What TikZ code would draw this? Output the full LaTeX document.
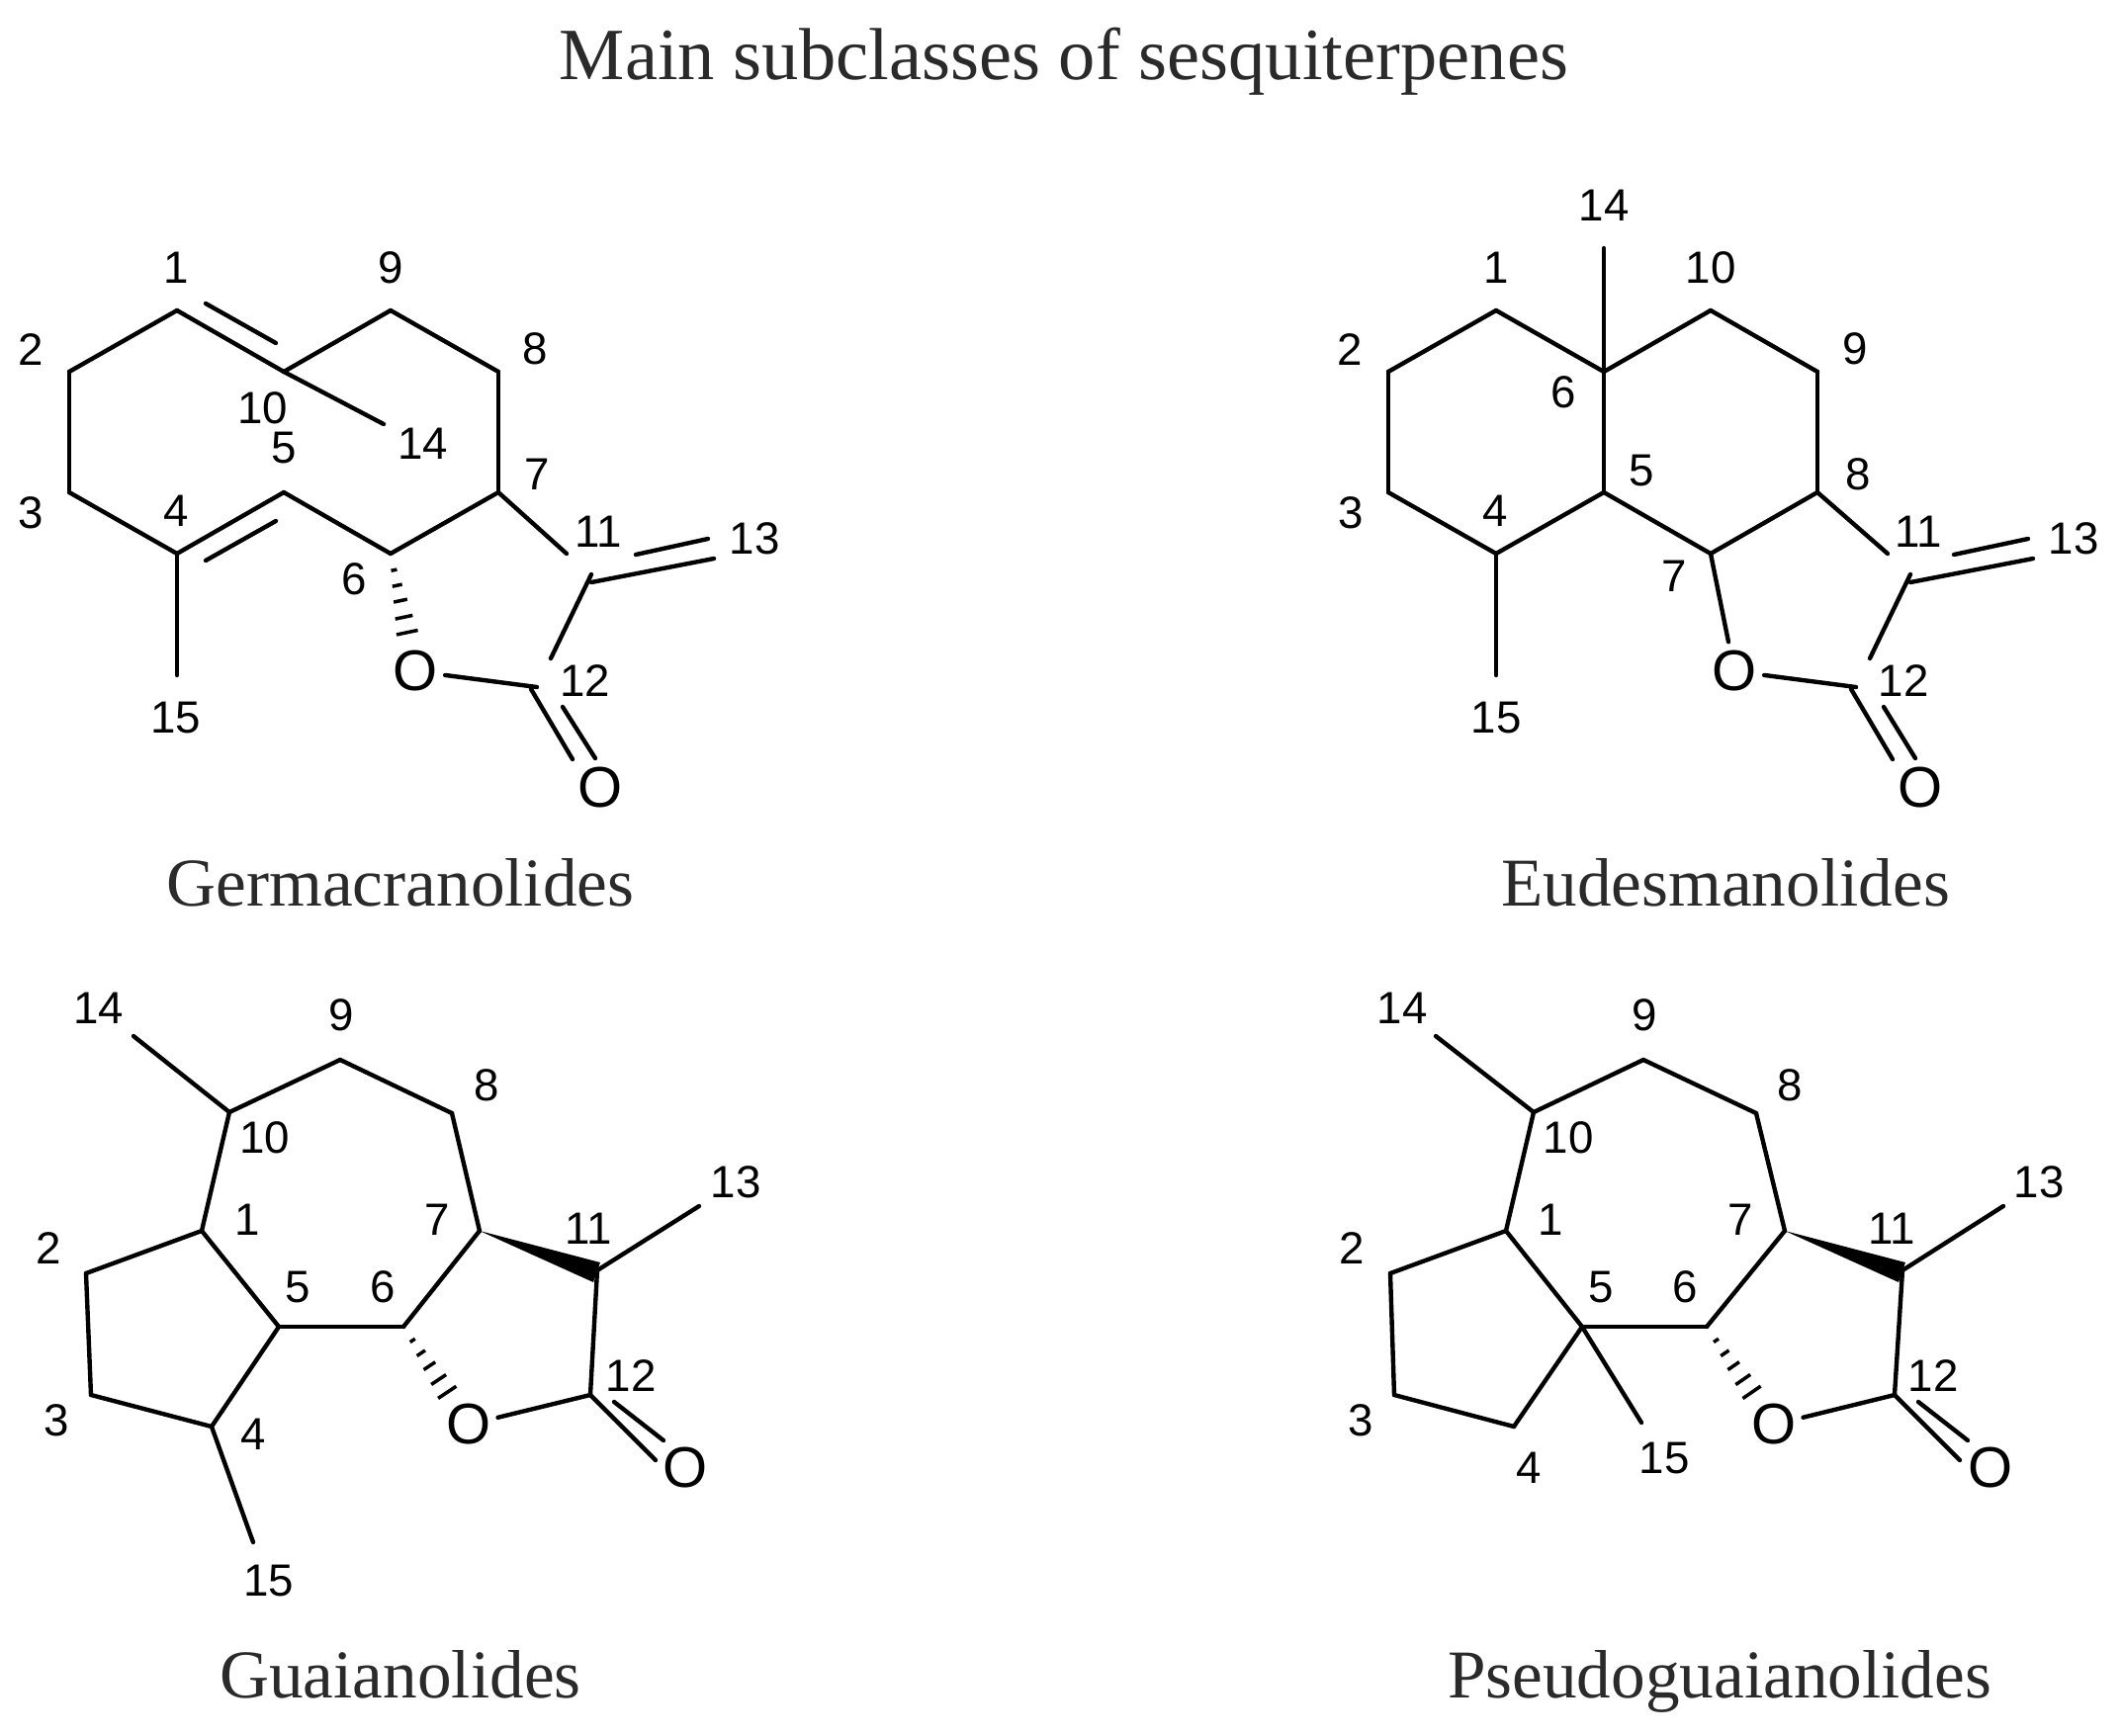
\documentclass[tikz,border=0pt]{standalone}
\usepackage{fontspec}
\setmainfont{Liberation Serif}
\setsansfont{Liberation Sans}
\usepackage{tikz}
\usetikzlibrary{calc}
\definecolor{captiongray}{HTML}{2B2A2A}

\newcommand{\hashstroke}[4]{\draw[line width=1pt] ($(#1)!#3!(#2)!#4!90:(#2)$) -- ($(#1)!#3!(#2)!#4!-90:(#2)$);}
\newcommand{\hashbond}[2]{
	\hashstroke{#1}{#2}{.14}{.3mm}
	\hashstroke{#1}{#2}{.27}{.5mm}
	\hashstroke{#1}{#2}{.40}{.7mm}
	\hashstroke{#1}{#2}{.54}{.9mm}
	\hashstroke{#1}{#2}{.67}{1.1mm}
}

\begin{document}
\begin{tikzpicture}[x=0.1mm,y=-0.1mm,bond/.style={line width=1.25pt,line cap=round,line join=round},num node/.style={font=\sffamily\fontsize{13}{15}\selectfont,inner sep=0pt},atom node/.style={circle,font=\sffamily\fontsize{16.5}{20}\selectfont,inner sep=0pt,outer sep=0pt},caption node/.style={anchor=base,text=captiongray,font=\fontsize{19.7}{24}\selectfont,inner sep=0pt},title node/.style={caption node,font=\fontsize{21.2}{24}\selectfont}]

	\useasboundingbox (0,0) rectangle (2145,1756);

	\node[title node] (title) at (1076,80) {Main subclasses of sesquiterpenes};
	\node[caption node] (germcap) at (405,916) {Germacranolides};
	\node[caption node] (eudcap) at (1745,916) {Eudesmanolides};
	\node[caption node] (guacap) at (405,1717) {Guaianolides};
	\node[caption node] (pseucap) at (1739,1717) {Pseudoguaianolides};

	% Germacranolides
	\coordinate (g1) at (179,314);
	\coordinate (g2) at (70,376);
	\coordinate (g3) at (70,498);
	\coordinate (g4) at (179,560);
	\coordinate (g5) at (287,498);
	\coordinate (g6) at (395,560);
	\coordinate (g7) at (504,498);
	\coordinate (g8) at (504,376);
	\coordinate (g9) at (395,314);
	\coordinate (g10) at (287,376);
	\coordinate (g14) at (388,429);
	\coordinate (g15) at (179,683);
	\coordinate (g7end) at (573,560);
	\coordinate (g11) at (598,581);
	\coordinate (g11low) at (598,589);
	\coordinate (g12top) at (557,666);
	\coordinate (g12) at (543,695);
	\coordinate (g13) at (722,565);
	\coordinate (g13a) at (643,561);
	\coordinate (g13b) at (716,545);
	\coordinate (g12a) at (537,697);
	\coordinate (g12b) at (579,768);
	\coordinate (g12c) at (569,715);
	\coordinate (g12d) at (602,767);
	\coordinate (g1a) at (208,307);
	\coordinate (g10a) at (279,347);
	\coordinate (g4a) at (208,567);
	\coordinate (g5a) at (279,527);
	\node[atom node] (gO) at (420,679) {O};
	\node[atom node] (gOket) at (607,797) {O};

	\path[bond]
	(g1) edge (g2) (g2) edge (g3) (g3) edge (g4) (g4) edge (g5) (g5) edge (g6)
	(g6) edge (g7) (g7) edge (g8) (g8) edge (g9) (g9) edge (g10) (g10) edge (g1)
	(g1a) edge (g10a) (g4a) edge (g5a) (g10) edge (g14) (g4) edge (g15)
	(g7) edge (g7end) (g11) edge (g12top) (g11low) edge (g13) (g13a) edge (g13b)
	(gO) edge (g12) (g12a) edge (g12b) (g12c) edge (g12d);
	\hashbond{g6}{gO}

	\node[num node] (gl1) at (178,271) {1};
	\node[num node] (gl2) at (31,354) {2};
	\node[num node] (gl3) at (31,519) {3};
	\node[num node] (gl4) at (178,517) {4};
	\node[num node] (gl5) at (287,453) {5};
	\node[num node] (gl6) at (358,586) {6};
	\node[num node] (gl7) at (543,480) {7};
	\node[num node] (gl8) at (541,353) {8};
	\node[num node] (gl9) at (395,271) {9};
	\node[num node] (gl10) at (266,413) {10};
	\node[num node] (gl11) at (605,538) {11};
	\node[num node] (gl12) at (592,689) {12};
	\node[num node] (gl13) at (763,545) {13};
	\node[num node] (gl14) at (428,449) {14};
	\node[num node] (gl15) at (178,726) {15};

	% Eudesmanolides
	\coordinate (e1) at (1513,314);
	\coordinate (e2) at (1404,376);
	\coordinate (e3) at (1404,498);
	\coordinate (e4) at (1513,560);
	\coordinate (e5) at (1622,498);
	\coordinate (e6) at (1622,376);
	\coordinate (e7) at (1730,560);
	\coordinate (e8) at (1838,498);
	\coordinate (e9) at (1838,376);
	\coordinate (e10) at (1730,314);
	\coordinate (e14) at (1622,251);
	\coordinate (e15) at (1513,683);
	\coordinate (e8end) at (1909,560);
	\coordinate (e11) at (1932,581);
	\coordinate (e11low) at (1932,589);
	\coordinate (e12top) at (1891,666);
	\coordinate (e12) at (1877,695);
	\coordinate (e13) at (2056,565);
	\coordinate (e13a) at (1976,561);
	\coordinate (e13b) at (2051,545);
	\coordinate (e12a) at (1872,697);
	\coordinate (e12b) at (1914,768);
	\coordinate (e12c) at (1905,715);
	\coordinate (e12d) at (1937,767);
	\node[atom node] (eO) at (1754,679) {O};
	\node[atom node] (eOket) at (1942,797) {O};

	\path[bond]
	(e1) edge (e2) (e2) edge (e3) (e3) edge (e4) (e4) edge (e5) (e5) edge (e6)
	(e6) edge (e1) (e6) edge (e10) (e10) edge (e9) (e9) edge (e8) (e8) edge (e7)
	(e7) edge (e5) (e6) edge (e14) (e4) edge (e15) (e7) edge (eO)
	(e8) edge (e8end) (e11) edge (e12top) (e11low) edge (e13) (e13a) edge (e13b)
	(eO) edge (e12) (e12a) edge (e12b) (e12c) edge (e12d);

	\node[num node] (el1) at (1513,271) {1};
	\node[num node] (el2) at (1365,354) {2};
	\node[num node] (el3) at (1366,519) {3};
	\node[num node] (el4) at (1512,517) {4};
	\node[num node] (el5) at (1660,476) {5};
	\node[num node] (el6) at (1581,397) {6};
	\node[num node] (el7) at (1693,583) {7};
	\node[num node] (el8) at (1879,480) {8};
	\node[num node] (el9) at (1876,353) {9};
	\node[num node] (el10) at (1730,271) {10};
	\node[num node] (el11) at (1940,538) {11};
	\node[num node] (el12) at (1925,689) {12};
	\node[num node] (el13) at (2097,545) {13};
	\node[num node] (el14) at (1622,208) {14};
	\node[num node] (el15) at (1513,726) {15};

	% Guaianolides
	\coordinate (a1) at (204,1245);
	\coordinate (a2) at (87,1288);
	\coordinate (a3) at (92,1411);
	\coordinate (a4) at (214,1443);
	\coordinate (a5) at (282,1342);
	\coordinate (a6) at (408,1342);
	\coordinate (a7) at (485,1245);
	\coordinate (a8) at (457,1126);
	\coordinate (a9) at (344,1072);
	\coordinate (a10) at (232,1125);
	\coordinate (a14) at (135,1048);
	\coordinate (a15) at (256,1560);
	\coordinate (a11) at (604,1285);
	\coordinate (a11up) at (607,1277);
	\coordinate (a11dn) at (600,1297);
	\coordinate (a13) at (707,1220);
	\coordinate (a12) at (597,1411);
	\coordinate (a12b) at (663,1477);
	\coordinate (a12c) at (621,1418);
	\coordinate (a12d) at (671,1457);
	\node[atom node] (aO) at (474,1441) {O};
	\node[atom node] (aOket) at (693,1485) {O};

	\path[bond]
	(a1) edge (a2) (a2) edge (a3) (a3) edge (a4) (a4) edge (a5) (a5) edge (a1)
	(a1) edge (a10) (a10) edge (a9) (a9) edge (a8) (a8) edge (a7) (a7) edge (a6)
	(a6) edge (a5) (a10) edge (a14) (a4) edge (a15) (a11) edge (a13)
	(a11) edge (a12) (aO) edge (a12) (a12) edge (a12b) (a12c) edge (a12d);
	\fill (a7) -- (a11up) -- (a11dn) -- cycle;
	\hashbond{a6}{aO}

	\node[num node] (al1) at (250,1234) {1};
	\node[num node] (al2) at (49,1263) {2};
	\node[num node] (al3) at (57,1437) {3};
	\node[num node] (al4) at (256,1451) {4};
	\node[num node] (al5) at (301,1302) {5};
	\node[num node] (al6) at (387,1302) {6};
	\node[num node] (al7) at (442,1234) {7};
	\node[num node] (al8) at (492,1098) {8};
	\node[num node] (al9) at (345,1027) {9};
	\node[num node] (al10) at (268,1151) {10};
	\node[num node] (al11) at (595,1243) {11};
	\node[num node] (al12) at (638,1392) {12};
	\node[num node] (al13) at (744,1196) {13};
	\node[num node] (al14) at (100,1020) {14};
	\node[num node] (al15) at (272,1599) {15};

	% Pseudoguaianolides
	\coordinate (p1) at (1523,1245);
	\coordinate (p2) at (1406,1288);
	\coordinate (p3) at (1410,1411);
	\coordinate (p4) at (1531,1443);
	\coordinate (p5) at (1600,1342);
	\coordinate (p6) at (1726,1342);
	\coordinate (p7) at (1805,1245);
	\coordinate (p8) at (1776,1126);
	\coordinate (p9) at (1662,1072);
	\coordinate (p10) at (1551,1125);
	\coordinate (p14) at (1452,1048);
	\coordinate (p15) at (1660,1439);
	\coordinate (p11) at (1924,1285);
	\coordinate (p11up) at (1927,1277);
	\coordinate (p11dn) at (1920,1297);
	\coordinate (p13) at (2026,1220);
	\coordinate (p12) at (1916,1411);
	\coordinate (p12b) at (1982,1477);
	\coordinate (p12c) at (1940,1418);
	\coordinate (p12d) at (1990,1457);
	\node[atom node] (pO) at (1794,1441) {O};
	\node[atom node] (pOket) at (2013,1485) {O};

	\path[bond]
	(p1) edge (p2) (p2) edge (p3) (p3) edge (p4) (p4) edge (p5) (p5) edge (p1)
	(p1) edge (p10) (p10) edge (p9) (p9) edge (p8) (p8) edge (p7) (p7) edge (p6)
	(p6) edge (p5) (p10) edge (p14) (p5) edge (p15) (p11) edge (p13)
	(p11) edge (p12) (pO) edge (p12) (p12) edge (p12b) (p12c) edge (p12d);
	\fill (p7) -- (p11up) -- (p11dn) -- cycle;
	\hashbond{p6}{pO}

	\node[num node] (pl1) at (1568,1234) {1};
	\node[num node] (pl2) at (1367,1263) {2};
	\node[num node] (pl3) at (1376,1437) {3};
	\node[num node] (pl4) at (1546,1485) {4};
	\node[num node] (pl5) at (1619,1302) {5};
	\node[num node] (pl6) at (1704,1302) {6};
	\node[num node] (pl7) at (1760,1234) {7};
	\node[num node] (pl8) at (1810,1098) {8};
	\node[num node] (pl9) at (1663,1027) {9};
	\node[num node] (pl10) at (1586,1151) {10};
	\node[num node] (pl11) at (1913,1243) {11};
	\node[num node] (pl12) at (1955,1392) {12};
	\node[num node] (pl13) at (2062,1196) {13};
	\node[num node] (pl14) at (1418,1020) {14};
	\node[num node] (pl15) at (1683,1475) {15};

\end{tikzpicture}
\end{document}
